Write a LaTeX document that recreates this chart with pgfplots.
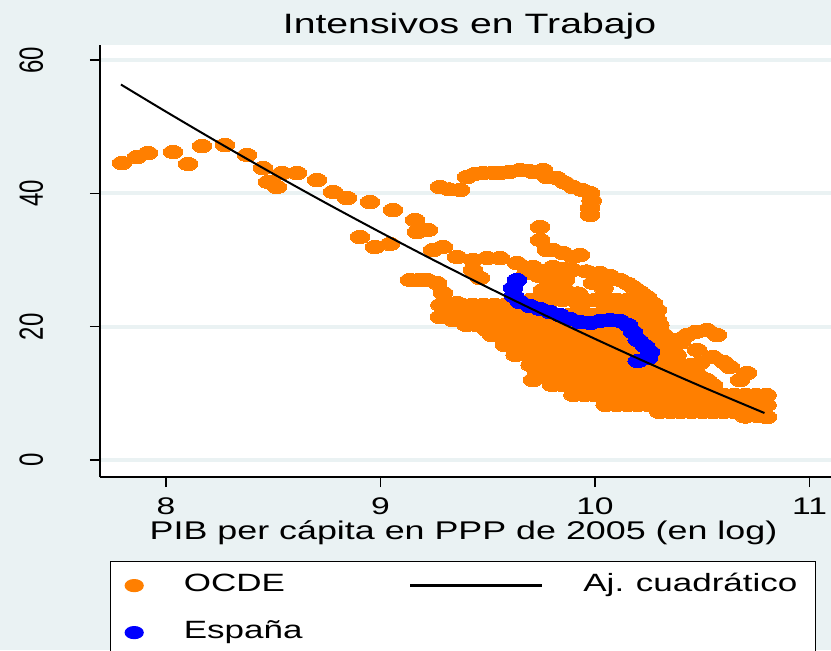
\documentclass[border=0pt]{standalone}
\usepackage{pgfplots}
\pgfplotsset{compat=1.18}
\usepackage{fontspec}
\setmainfont{Liberation Sans}
\usepackage{graphicx}
\definecolor{bgcol}{RGB}{234,242,243}
\definecolor{ocdeor}{RGB}{255,127,0}
\definecolor{espblue}{RGB}{0,0,255}
\newcommand{\W}[1]{\scalebox{1.4}[1]{#1}}
\newcommand{\V}[1]{\scalebox{1}[1.4]{#1}}
\frenchspacing
\begin{document}
\begin{tikzpicture}
\useasboundingbox (-50pt,-86.5pt) rectangle (365.5pt,238.5pt);
\fill[bgcol] (-50pt,-86.5pt) rectangle (365.5pt,238.5pt);
\begin{axis}[
  at={(0pt,0pt)}, anchor=south west,
  x=107.25pt, y=3.33333pt,
  xmin=7.6923, xmax=11.1888, ymin=-2.55, ymax=62.25,
  clip marker paths=true,
  axis x line*=bottom, axis y line*=left,
  axis line style={line width=0.8pt, black},
  axis background/.style={fill=white},
  xtick={8,9,10,11}, xticklabels={\W{8},\W{9},\W{10},\W{11}},
  ytick={0,20,40,60}, yticklabels={\V{0},\V{20},\V{40},\V{60}},
  tick align=outside, major tick length=5pt,
  tick style={line width=0.8pt, black},
  ymajorgrids, major grid style={line width=2pt, bgcol},
  /pgf/number format/assume math mode=true,
  tick label style={font=\fontsize{12}{14}\selectfont, inner sep=0pt},
  xticklabel style={anchor=base},
  yticklabel style={rotate=90, anchor=base},
  xticklabel shift=13.5pt,
  yticklabel shift=23.5pt,
  title={\W{Intensivos en Trabajo}},
  title style={at={(axis description cs:0.4927,1.0278)}, anchor=base, yshift=-6pt, font=\fontsize{14}{17}\selectfont, inner sep=0pt},
  xlabel={\W{PIB per cápita en PPP de 2005 (en log)}},
  xlabel style={at={(axis description cs:0.4847,-0.1458)}, anchor=base, font=\fontsize{12.8}{15}\selectfont, inner sep=0pt},
  legend columns=2,
  legend cell align=left,
  legend style={
    at={(axis description cs:0.01333,-0.19444)}, anchor=north west,
    draw=black, line width=0.6pt, fill=white,
    inner xsep=7pt, inner ysep=6pt,
    font=\fontsize{12.5}{15}\selectfont,
    nodes={text width=109pt, align=left, inner sep=0pt, text height=9pt, text depth=3pt},
    /tikz/every odd column/.append style={column sep=20pt},
    /tikz/every even column/.append style={column sep=3.5pt},
    row sep=11.5pt,
  },
]
% OCDE scatter
\addplot[only marks, color=ocdeor, mark=*, mark size=3.3pt, mark options={xscale=1.5, draw=ocdeor, fill=ocdeor, line width=0pt}, forget plot] coordinates {
(7.795,44.55) (7.865,45.45) (7.916,46.05) (8.033,46.2) (8.103,44.4) (8.168,47.1) (8.275,47.25) (8.378,45.75)
(8.452,43.8) (8.476,41.7) (8.517,40.95) (8.541,43.05) (8.611,43.05) (8.704,42.0) (8.779,40.2) (8.844,39.3)
(8.951,38.7) (9.058,37.5) (9.161,36.0) (9.170,34.2) (9.221,34.5) (8.904,33.45) (8.974,31.95) (9.044,32.4)
(9.138,27.0) (9.18,27.0)
(9.245,31.5) (9.291,31.95) (9.357,30.45) (9.431,30.0) (9.497,30.3) (9.557,30.3) (9.636,29.55) (9.711,28.95)
(9.431,28.5) (9.464,27.3) (9.217,27.0) (9.263,26.55) (9.291,25.05) (9.310,23.55) (9.277,21.45) (9.357,23.55)
(9.417,22.95) (9.478,22.5) (9.543,22.05) (9.338,21.0) (9.417,20.55) (9.497,19.5) (9.557,19.05) (9.618,18.45)
(9.683,16.95) (9.711,14.55) (9.711,12.0) (9.758,16.5)
(9.277,40.95) (9.32,40.6) (9.371,40.5) (9.403,42.45) (9.44,42.9) (9.478,43.05) (9.52,43.1) (9.557,43.05)
(9.60,43.2) (9.650,43.5) (9.690,43.4) (9.711,43.2) (9.758,43.5) (9.776,42.45) (9.823,42.3) (9.86,41.6)
(9.897,40.95) (9.94,40.5) (9.977,40.05) (9.985,38.9) (9.977,37.8) (9.977,36.75)
(9.744,34.95) (9.744,33.0) (9.776,31.5) (9.804,31.5) (9.851,31.05) (9.897,30.45) (9.93,30.75)
(9.804,28.95) (9.85,28.7) (9.897,28.5) (9.96,28.3) (10.023,28.05) (10.07,27.6) (10.117,27.0) (10.15,26.5)
(10.177,25.95) (10.21,25.2) (10.242,24.45) (10.27,23.5) (10.289,22.5) (10.289,21.0) (10.084,24.0) (10.163,22.95)
(9.991,26.55) (10.04,25.8) (9.758,25.5) (9.837,24.45) (9.930,22.95) (9.80,26.0) (9.86,25.5) (9.92,25.0)
(9.68,28.0) (9.74,27.6) (9.80,27.3) (9.86,27.0)
(10.429,18.75) (10.522,19.5) (10.569,18.75) (10.364,18.0) (10.40,17.6) (10.476,16.5) (10.550,15.45) (10.629,13.95)
(10.709,13.05) (10.676,12.0) (10.490,14.55) (10.522,12.0) (10.60,14.7) (10.47,19.2) (10.31,19.0) (10.33,17.5)
(10.802,6.45) (10.76,6.6) (10.70,6.5)
(9.28,23.25) (9.33,23.25) (9.38,23.25) (9.43,23.25) (9.48,23.25) (9.53,23.25) (9.58,23.25) (9.63,23.25)
(9.70,24.0) (9.75,24.0) (9.80,24.0) (9.85,24.0) (9.90,24.0) (9.95,24.0) (10.00,24.0) (10.05,24.0) (10.10,24.0) (10.15,24.0) (10.20,24.0)
(10.05,22.8) (10.10,22.8) (10.15,22.8) (10.20,22.8) (10.25,22.8)
(9.33,21.75) (9.38,21.75) (9.43,21.75) (9.48,21.75) (9.53,21.75) (9.58,21.75) (9.63,21.75) (9.68,21.75) (9.73,21.75) (9.78,21.75)
(9.83,21.75) (9.88,21.75) (9.93,21.75) (9.98,21.75) (10.03,21.75) (10.08,21.75) (10.13,21.75) (10.18,21.75) (10.23,21.75) (10.28,21.75)
(9.40,20.25) (9.45,20.25) (9.50,20.25) (9.55,20.25) (9.60,20.25) (9.65,20.25) (9.70,20.25) (9.75,20.25) (9.80,20.25) (9.85,20.25)
(9.90,20.25) (9.95,20.25) (10.00,20.25) (10.05,20.25) (10.10,20.25) (10.15,20.25) (10.20,20.25) (10.25,20.25) (10.30,20.25)
(9.52,18.75) (9.57,18.75) (9.62,18.75) (9.67,18.75) (9.72,18.75) (9.77,18.75) (9.82,18.75) (9.87,18.75) (9.92,18.75)
(9.97,18.75) (10.02,18.75) (10.07,18.75) (10.12,18.75) (10.17,18.75) (10.22,18.75) (10.27,18.75) (10.32,18.75)
(9.58,17.25) (9.63,17.25) (9.68,17.25) (9.73,17.25) (9.78,17.25) (9.83,17.25) (9.88,17.25) (9.93,17.25)
(9.98,17.25) (10.03,17.25) (10.08,17.25) (10.13,17.25) (10.18,17.25) (10.23,17.25) (10.28,17.25) (10.33,17.25)
(9.63,15.75) (9.68,15.75) (9.73,15.75) (9.78,15.75) (9.83,15.75) (9.88,15.75) (9.93,15.75) (9.98,15.75)
(10.03,15.75) (10.08,15.75) (10.13,15.75) (10.18,15.75) (10.23,15.75) (10.28,15.75) (10.33,15.75) (10.38,15.75)
(9.70,14.25) (9.75,14.25) (9.80,14.25) (9.85,14.25) (9.90,14.25) (9.95,14.25) (10.00,14.25) (10.05,14.25)
(10.10,14.25) (10.15,14.25) (10.20,14.25) (10.25,14.25) (10.30,14.25) (10.35,14.25) (10.40,14.25) (10.45,14.25)
(9.73,12.75) (9.78,12.75) (9.83,12.75) (9.88,12.75) (9.93,12.75) (9.98,12.75) (10.03,12.75) (10.08,12.75)
(10.13,12.75) (10.18,12.75) (10.23,12.75) (10.28,12.75) (10.33,12.75) (10.38,12.75) (10.43,12.75) (10.48,12.75)
(9.80,11.25) (9.85,11.25) (9.90,11.25) (9.95,11.25) (10.00,11.25) (10.05,11.25) (10.10,11.25) (10.15,11.25)
(10.20,11.25) (10.25,11.25) (10.30,11.25) (10.35,11.25) (10.40,11.25) (10.45,11.25) (10.50,11.25) (10.55,11.25)
(9.90,9.75) (9.95,9.75) (10.00,9.75) (10.05,9.75) (10.10,9.75) (10.15,9.75) (10.20,9.75) (10.25,9.75) (10.30,9.75) (10.35,9.75)
(10.40,9.75) (10.45,9.75) (10.50,9.75) (10.55,9.75) (10.60,9.75) (10.65,9.75) (10.70,9.75) (10.75,9.75) (10.80,9.75)
(10.05,8.25) (10.10,8.25) (10.15,8.25) (10.20,8.25) (10.25,8.25) (10.30,8.25) (10.35,8.25) (10.40,8.25)
(10.45,8.25) (10.50,8.25) (10.55,8.25) (10.60,8.25) (10.65,8.25) (10.70,8.25) (10.75,8.25) (10.80,8.25)
(10.30,7.2) (10.35,7.2) (10.40,7.2) (10.45,7.2) (10.50,7.2) (10.55,7.2) (10.60,7.2) (10.65,7.2) (10.70,7.2) (10.75,7.2)
};
% Espana
\addplot[only marks, color=espblue, mark=*, mark size=3.3pt, mark options={xscale=1.5, draw=espblue, fill=espblue, line width=0pt}, forget plot] coordinates {
(9.636,27.0) (9.618,25.8) (9.622,24.6) (9.650,23.7) (9.697,23.1) (9.744,22.65) (9.790,22.2) (9.837,21.75)
(9.883,21.15) (9.930,20.7) (9.977,20.55) (10.023,20.85) (10.070,21.0) (10.117,20.85) (10.154,20.25) (10.177,19.2)
(10.200,18.0) (10.233,17.1) (10.256,16.2) (10.247,15.3) (10.200,14.85)
};
% Ajuste cuadratico
\addplot[black, line width=1pt, smooth, forget plot] coordinates {
(7.79,56.32) (8.0,52.25) (8.25,47.52) (8.5,42.93) (8.75,38.47) (9.0,34.15) (9.25,29.95)
(9.5,25.89) (9.75,21.97) (10.0,18.17) (10.25,14.51) (10.5,10.98) (10.79,7.05)
};
\addlegendimage{legend image code/.code={\fill[ocdeor] (4.5pt,0pt) ellipse [x radius=4.5pt, y radius=3pt];}}
\addlegendentry{\W{OCDE}}
\addlegendimage{legend image code/.code={\draw[black, line width=1.3pt] (0pt,0pt) -- (66pt,0pt);}}
\addlegendentry{\W{Aj. cuadrático}}
\addlegendimage{legend image code/.code={\fill[espblue] (4.5pt,0pt) ellipse [x radius=4.5pt, y radius=3pt];}}
\addlegendentry{\W{España}}
\end{axis}
\end{tikzpicture}
\end{document}
